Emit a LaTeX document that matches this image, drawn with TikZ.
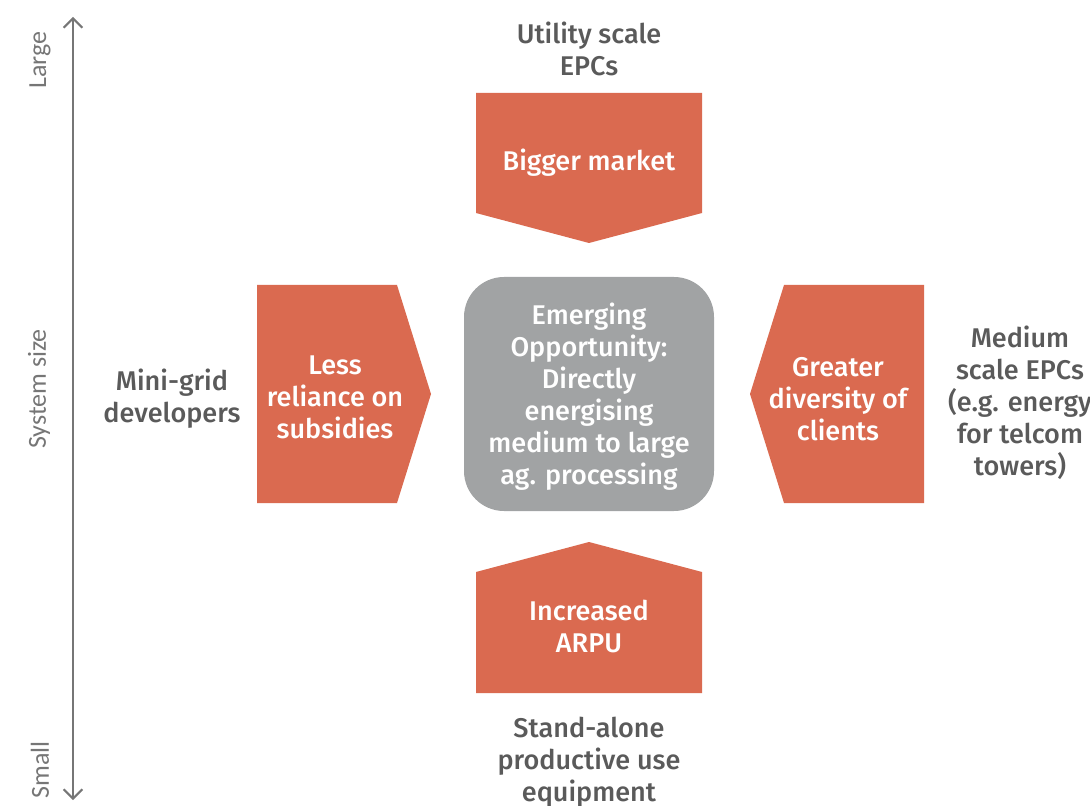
\documentclass[tikz,border=0pt]{standalone}
\usepackage{fontspec}
\setmainfont{Fira Sans}[BoldFont={Fira Sans Medium}]
\newfontfamily\axisfont{Carlito}
\usetikzlibrary{arrows.meta}
\definecolor{tagred}{HTML}{DA6A50}
\definecolor{hubgrey}{HTML}{A1A3A4}
\definecolor{txtgrey}{HTML}{5A5A5A}
\definecolor{axgrey}{HTML}{767676}

\begin{document}
\begin{tikzpicture}[x=0.75pt,y=-0.75pt,
  outer/.style={align=center,text=txtgrey,font=\fontsize{20.3}{24}\selectfont\bfseries},
  inner/.style={align=center,text=white,font=\fontsize{20.3}{24}\selectfont\bfseries},
  axlabel/.style={rotate=90,text=axgrey,font=\axisfont\fontsize{19.5}{22}\selectfont}]
\useasboundingbox (0,0) rectangle (1090,806);
% system size axis
\coordinate (axtop) at (73,17);
\coordinate (axbot) at (73,800);
\draw[axgrey,line width=1.5pt,{Straight Barb[length=7pt,width=14pt]}-{Straight Barb[length=7pt,width=14pt]}] (axbot) -- (axtop);
\node[axlabel] (large) at (40,60) {Large};
\node[axlabel] (syssize) at (39,389) {System size};
\node[axlabel] (small) at (40,770) {Small};
% the four tags and the hub
\fill[tagred] (476,93) -- (702,93) -- (702,213) -- (589,243) -- (476,213) -- cycle;
\fill[tagred] (476,693) -- (702,693) -- (702,572) -- (589,542) -- (476,572) -- cycle;
\fill[tagred] (257,285) -- (397,285) -- (431,394) -- (397,503) -- (257,503) -- cycle;
\fill[tagred] (924,285) -- (784,285) -- (750,394) -- (784,503) -- (924,503) -- cycle;
\fill[hubgrey,rounded corners=30pt] (464,277) rectangle (714,511);
\node[inner] (bigger) at (589,163) {Bigger market};
\node[inner] (arpu) at (589,626) {Increased\\ARPU};
\node[inner] (subsidy) at (335,397) {Less\\reliance on\\subsidies};
\node[inner] (diverse) at (838,399) {Greater\\diversity of\\clients};
\node[inner] (hub) at (589,397) {Emerging\\Opportunity:\\Directly\\energising\\medium to large\\ag. processing};
% who is behind each tag
\node[outer] (utility) at (589,49) {Utility scale\\EPCs};
\node[outer] (standalone) at (589,762) {Stand-alone\\productive use\\equipment};
\node[outer] (minigrid) at (172,399) {Mini-grid\\developers};
\node[outer] (medium) at (1020,403) {Medium\\scale EPCs\\(e.g. energy\\for telcom\\towers)};
\end{tikzpicture}
\end{document}
